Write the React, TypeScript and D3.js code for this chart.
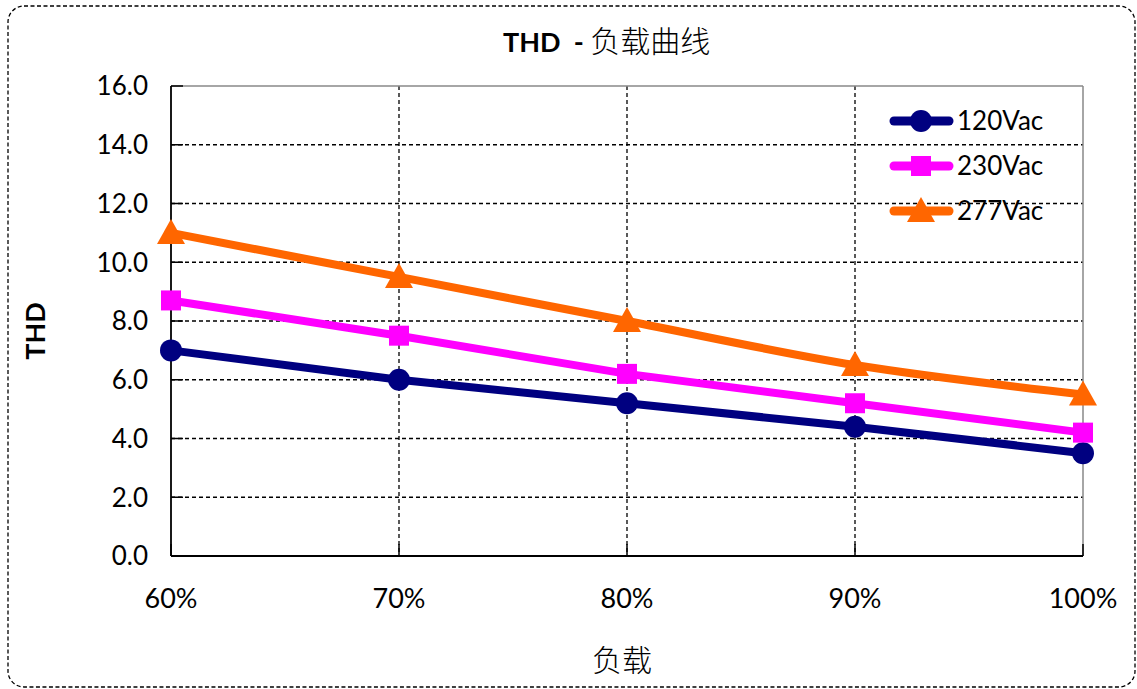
import React from "react";
import * as d3 from "d3";

const categories = ["60%", "70%", "80%", "90%", "100%"];
const series120 = [7.0, 6.0, 5.2, 4.4, 3.5];
const series230 = [8.7, 7.5, 6.2, 5.2, 4.2];
const series277 = [11.0, 9.5, 8.0, 6.5, 5.5];
const seriesNames = ["120Vac", "230Vac", "277Vac"];
const yTicks = [0, 2, 4, 6, 8, 10, 12, 14, 16];

const W = 1137;
const H = 689;
const L = 171, R = 1083, T = 86, B = 556;
const FONT = "Lato, 'Open Sans', sans-serif";
const CJK = "'Noto Sans CJK SC', sans-serif";

export default function App() {
  const x = d3.scalePoint<string>().domain(categories).range([L, R]);
  const y = d3.scaleLinear().domain([0, 16]).range([B, T]);

  const series = [
    { name: seriesNames[0], data: series120, color: "#000080", marker: "circle", curve: d3.curveLinear },
    { name: seriesNames[1], data: series230, color: "#FF00FF", marker: "square", curve: d3.curveLinear },
    { name: seriesNames[2], data: series277, color: "#FF6600", marker: "triangle", curve: d3.curveCardinal.tension(0) },
  ];

  const marker = (type: string, cx: number, cy: number, color: string, key: string) => {
    if (type === "circle") return <circle key={key} cx={cx} cy={cy} r={11} fill={color} />;
    if (type === "square") return <rect key={key} x={cx - 10} y={cy - 10} width={20} height={20} fill={color} />;
    return <path key={key} d={`M${cx},${cy - 14}L${cx + 14},${cy + 11}L${cx - 14},${cy + 11}Z`} fill={color} />;
  };

  return (
    <svg width={W} height={H} style={{ display: "block", position: "absolute", left: 0, top: 0 }} fontFamily={FONT}>
      <rect x={0} y={0} width={W} height={H} fill="#fff" />
      <rect x={8} y={6} width={1127} height={681} rx={16} ry={16} fill="none" stroke="#000" strokeWidth={1.3} strokeDasharray="4,2.5" />
      <text x={503} y={52} fontSize={27} fill="#000">
        <tspan fontWeight="bold">THD&#160;&#160;-&#160;</tspan>
        <tspan fontFamily={CJK} fontSize={30} fontWeight={300}>负载曲线</tspan>
      </text>

      {/* grid */}
      {yTicks.filter(t => t > 0 && t < 16).map(t => (
        <line key={"gy" + t} x1={L} x2={R} y1={y(t)} y2={y(t)} stroke="#000" strokeWidth={1.3} strokeDasharray="4,3" />
      ))}
      {categories.slice(1, -1).map(c => (
        <line key={"gx" + c} x1={x(c)} x2={x(c)} y1={T} y2={B} stroke="#000" strokeWidth={1.3} strokeDasharray="4,3" />
      ))}
      <line x1={L} x2={R} y1={T} y2={T} stroke="#888" strokeWidth={1.5} />
      <line x1={R} x2={R} y1={T} y2={B} stroke="#888" strokeWidth={1.5} />
      <line x1={L} x2={L} y1={T} y2={B} stroke="#000" strokeWidth={1.8} />
      <line x1={L} x2={R} y1={B} y2={B} stroke="#000" strokeWidth={1.8} />
      {yTicks.map(t => (
        <line key={"ty" + t} x1={L} x2={L + 12} y1={y(t)} y2={y(t)} stroke="#000" strokeWidth={1.5} />
      ))}
      {categories.map(c => (
        <line key={"tx" + c} x1={x(c)} x2={x(c)} y1={B - 12} y2={B} stroke="#000" strokeWidth={1.5} />
      ))}

      {yTicks.map(t => (
        <text key={"ly" + t} x={148} y={y(t)} dy="0.36em" textAnchor="end" fontSize={26} fill="#000">{t.toFixed(1)}</text>
      ))}
      {categories.map(c => (
        <text key={"lx" + c} x={x(c)} y={608} textAnchor="middle" fontSize={27} fill="#000">{c}</text>
      ))}
      <text x={622} y={671} textAnchor="middle" fontSize={30} fontFamily={CJK} fontWeight={300} fill="#000">负载</text>
      <text transform={`translate(45,331) rotate(-90)`} textAnchor="middle" fontSize={27} fontWeight="bold" fill="#000">THD</text>

      {series.map(s => {
        const line = d3.line<number>().x((_, i) => x(categories[i])!).y(d => y(d)).curve(s.curve);
        return (
          <g key={s.name}>
            <path d={line(s.data)!} fill="none" stroke={s.color} strokeWidth={8} strokeLinejoin="round" />
            {s.data.map((d, i) => marker(s.marker, x(categories[i])!, y(d), s.color, s.name + i))}
          </g>
        );
      })}

      {series.map((s, i) => {
        const ly = 121 + i * 45;
        return (
          <g key={"lg" + s.name}>
            <line x1={894} x2={949} y1={ly} y2={ly} stroke={s.color} strokeWidth={9} strokeLinecap="round" />
            {marker(s.marker, 921, ly, s.color, "lm" + i)}
            <text x={957} y={ly} dy="0.36em" fontSize={26} fill="#000">{s.name}</text>
          </g>
        );
      })}
    </svg>
  );
}
